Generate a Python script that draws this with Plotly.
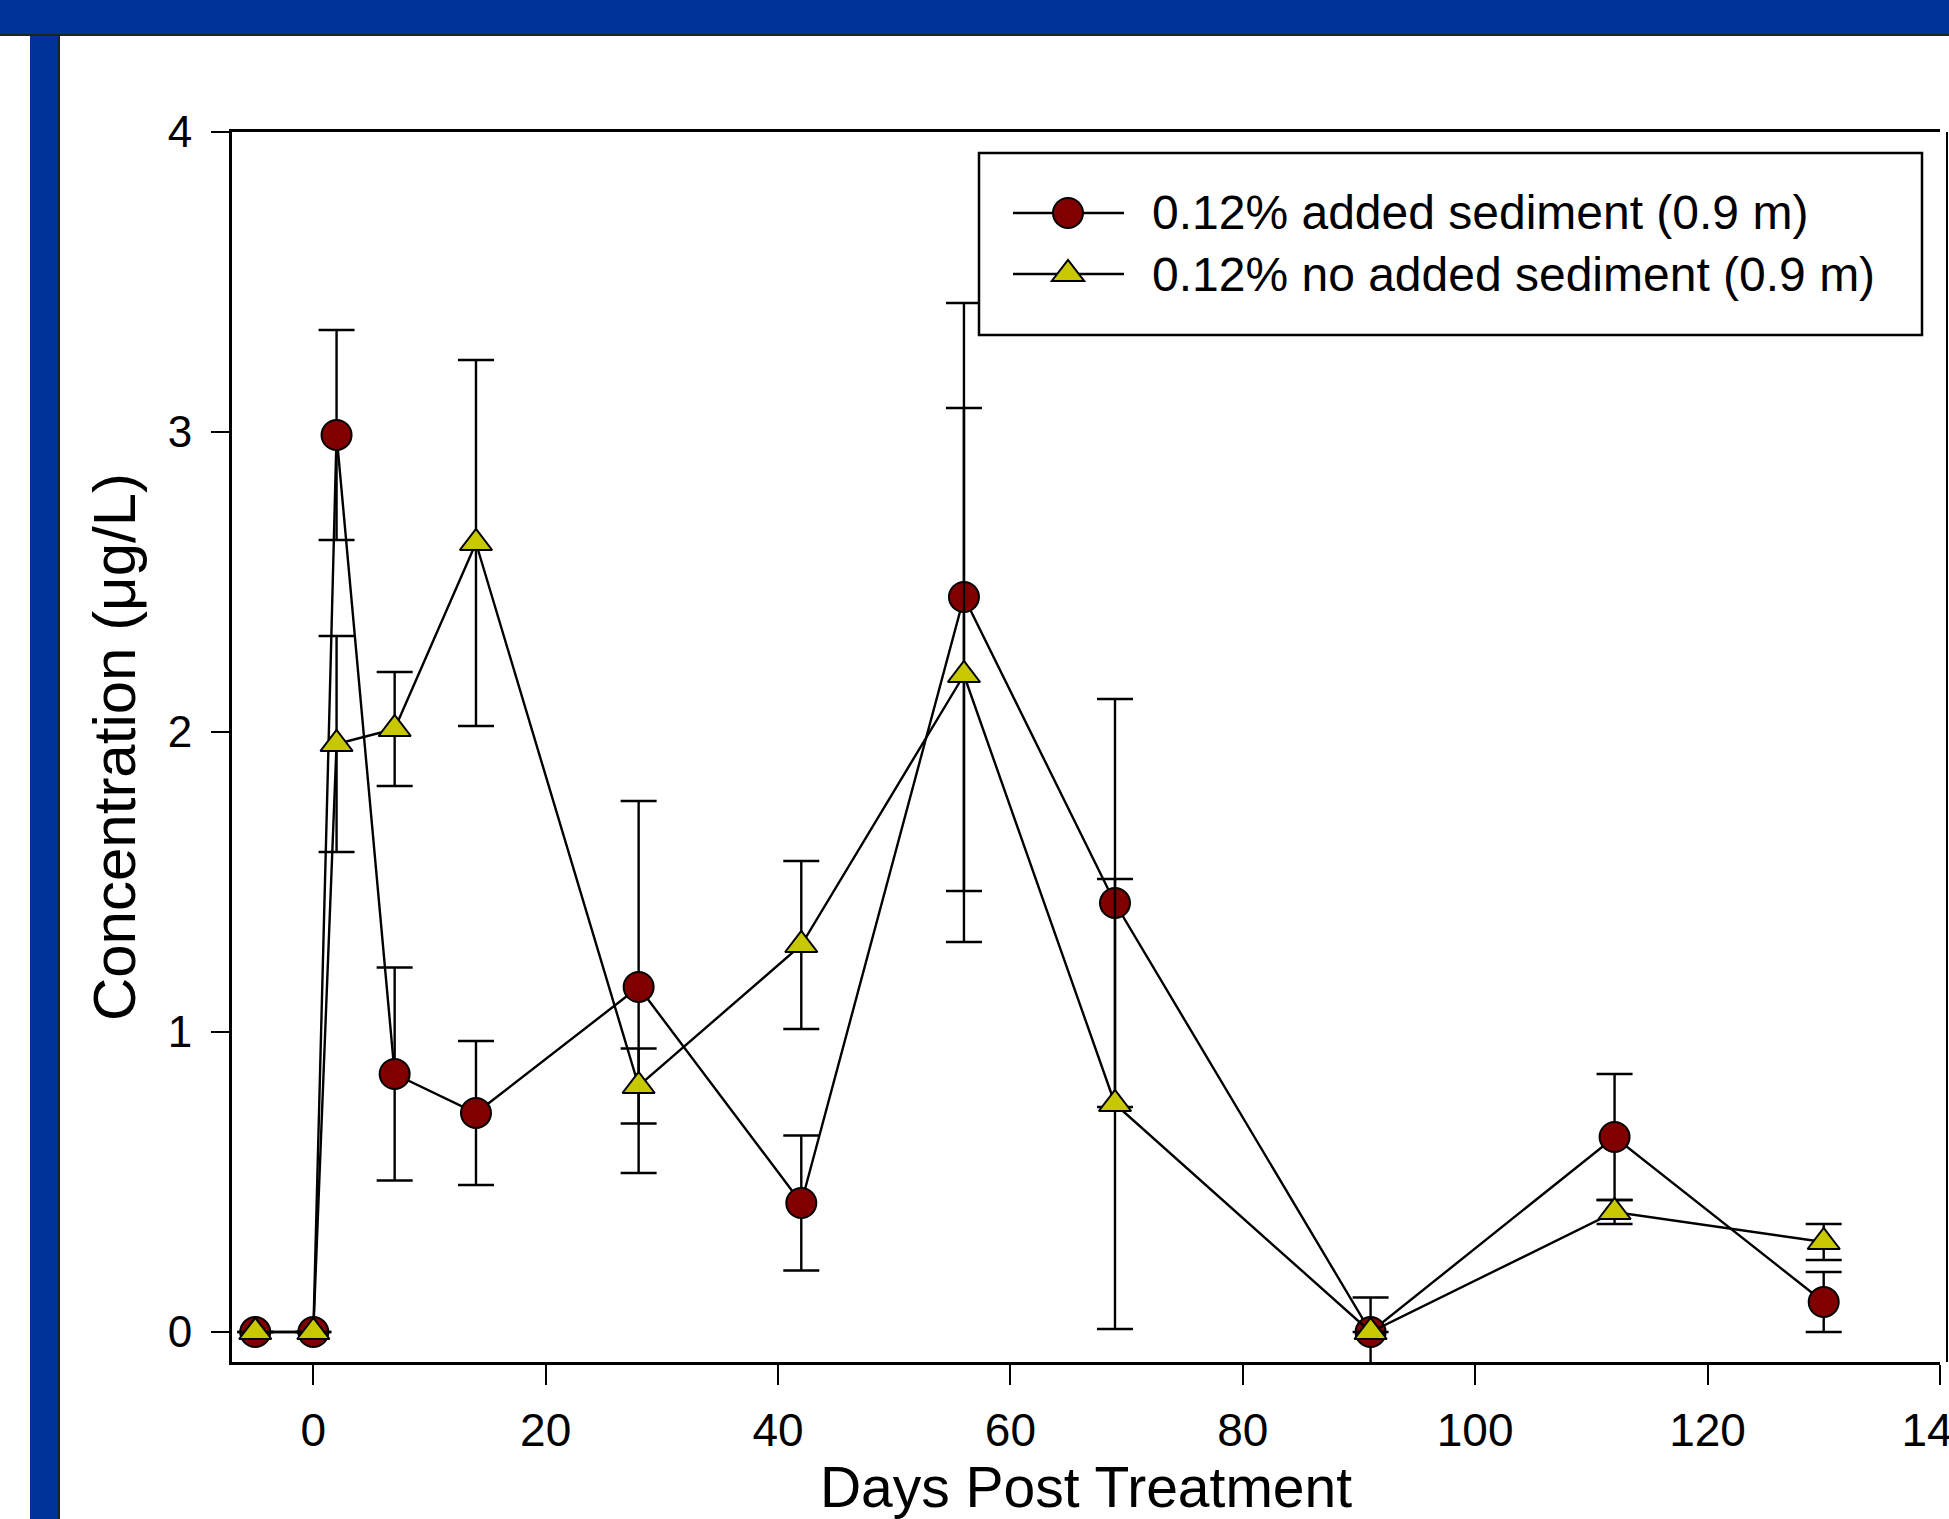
import plotly.graph_objects as go

W, H = 1949, 1519

# ---- data ----
days = [-5, 0, 2, 7, 14, 28, 42, 56, 69, 91, 112, 130]
added_sed = [0, 0, 2.99, 0.86, 0.73, 1.15, 0.43, 2.45, 1.43, 0, 0.65, 0.10]
added_sed_err = [0, 0, 0.35, 0.355, 0.24, 0.62, 0.225, 0.98, 0.68, 0.115, 0.21, 0.10]
no_sed = [0, 0, 1.96, 2.01, 2.63, 0.82, 1.29, 2.19, 0.76, 0, 0.40, 0.30]
no_sed_err = [0, 0, 0.36, 0.19, 0.61, 0.125, 0.28, 0.89, 0.75, 0, 0.04, 0.06]

name_added = "0.12% added sediment (0.9 m)"
name_no = "0.12% no added sediment (0.9 m)"
x_ticks = [0, 20, 40, 60, 80, 100, 120, 140]
y_ticks = [0, 1, 2, 3, 4]

FONT = "Arial, 'Liberation Sans', sans-serif"
BLUE = "#003399"
RED = "#800000"
YEL = "#C8C800"

fig = go.Figure()

fig.add_trace(go.Scatter(
    x=days, y=added_sed, name=name_added, mode="lines+markers", showlegend=False,
    line=dict(color="black", width=2.4),
    marker=dict(symbol="circle", size=30, color=RED, line=dict(color="black", width=2)),
    error_y=dict(type="data", array=added_sed_err, visible=True, color="black", thickness=2.4, width=18),
))
fig.add_trace(go.Scatter(
    x=days, y=no_sed, name=name_no, mode="lines+markers", showlegend=False,
    line=dict(color="black", width=2.4),
    marker=dict(symbol="triangle-up", size=28, color=YEL, line=dict(color="black", width=2)),
    error_y=dict(type="data", array=no_sed_err, visible=True, color="black", thickness=2.4, width=18),
))


def px_x(v):
    return v / W


def px_y(v):
    return 1 - v / H


shapes = [
    # slide frame
    dict(type="rect", xref="paper", yref="paper", x0=0, x1=1, y0=px_y(35), y1=1,
         fillcolor=BLUE, line=dict(width=0), layer="above"),
    dict(type="rect", xref="paper", yref="paper", x0=px_x(30), x1=px_x(59), y0=0, y1=px_y(35),
         fillcolor=BLUE, line=dict(width=0), layer="above"),
    dict(type="line", xref="paper", yref="paper", x0=0, x1=1, y0=px_y(35), y1=px_y(35),
         line=dict(color="#222222", width=2), layer="above"),
    dict(type="line", xref="paper", yref="paper", x0=px_x(59), x1=px_x(59), y0=0, y1=px_y(35),
         line=dict(color="#222222", width=2), layer="above"),
    # right frame line of the graph
    dict(type="line", xref="paper", yref="paper", x0=px_x(1947), x1=px_x(1947),
         y0=px_y(1362), y1=px_y(132), line=dict(color="black", width=2), layer="above"),
    # legend box
    dict(type="rect", xref="paper", yref="paper", x0=px_x(979), x1=px_x(1922),
         y0=px_y(335), y1=px_y(153), fillcolor="white",
         line=dict(color="black", width=2.5), layer="above"),
]

annotations = []
legend_rows = [
    (213, name_added, RED, "circle"),
    (274, name_no, YEL, "triangle"),
]
for row_y, label, color, sym in legend_rows:
    shapes.append(dict(type="line", xref="paper", yref="paper",
                       x0=px_x(1013), x1=px_x(1124), y0=px_y(row_y), y1=px_y(row_y),
                       line=dict(color="black", width=2.4), layer="above"))
    if sym == "circle":
        shapes.append(dict(type="circle", xref="paper", yref="paper",
                           xsizemode="pixel", ysizemode="pixel",
                           xanchor=px_x(1068), yanchor=px_y(row_y),
                           x0=-15, x1=15, y0=-15, y1=15,
                           fillcolor=color, line=dict(color="black", width=2), layer="above"))
    else:
        shapes.append(dict(type="path", xref="paper", yref="paper",
                           xsizemode="pixel", ysizemode="pixel",
                           xanchor=px_x(1068), yanchor=px_y(row_y),
                           path="M-16.2,-7 L16.2,-7 L0,14 Z",
                           fillcolor=color, line=dict(color="black", width=2), layer="above"))
    annotations.append(dict(xref="paper", yref="paper", x=px_x(1150), y=px_y(row_y),
                            xanchor="left", yanchor="middle", showarrow=False,
                            text=label, font=dict(family=FONT, size=48, color="black")))

fig.update_layout(
    width=W, height=H,
    margin=dict(l=0, r=0, t=0, b=0),
    paper_bgcolor="white", plot_bgcolor="white",
    font=dict(family=FONT, color="black"),
    shapes=shapes,
    annotations=annotations,
    showlegend=False,
    xaxis=dict(
        domain=[px_x(232), px_x(1940)], range=[-7, 140.01],
        tickmode="array", tickvals=x_ticks, ticktext=[str(t) for t in x_ticks],
        ticks="outside", ticklen=20, tickwidth=2, tickcolor="black",
        showline=True, linewidth=3, linecolor="black", mirror=True,
        showgrid=False, zeroline=False, automargin=False,
        ticklabeloverflow="allow", ticklabelstandoff=6,
        tickfont=dict(family=FONT, size=46, color="black"),
        title=dict(text="Days Post Treatment", font=dict(family=FONT, size=57, color="black"), standoff=19),
    ),
    yaxis=dict(
        domain=[px_y(1362), px_y(132)], range=[-0.1, 4.0],
        tickmode="array", tickvals=y_ticks, ticktext=[str(t) for t in y_ticks],
        ticks="outside", ticklen=18, tickwidth=2, tickcolor="black",
        showline=True, linewidth=3, linecolor="black", mirror=False,
        showgrid=False, zeroline=False, automargin=False,
        ticklabeloverflow="allow", ticklabelstandoff=10,
        tickfont=dict(family=FONT, size=44, color="black"),
        title=dict(text="Concentration (μg/L)", font=dict(family=FONT, size=60, color="black"), standoff=13),
    ),
)

fig.write_html("out.html")
